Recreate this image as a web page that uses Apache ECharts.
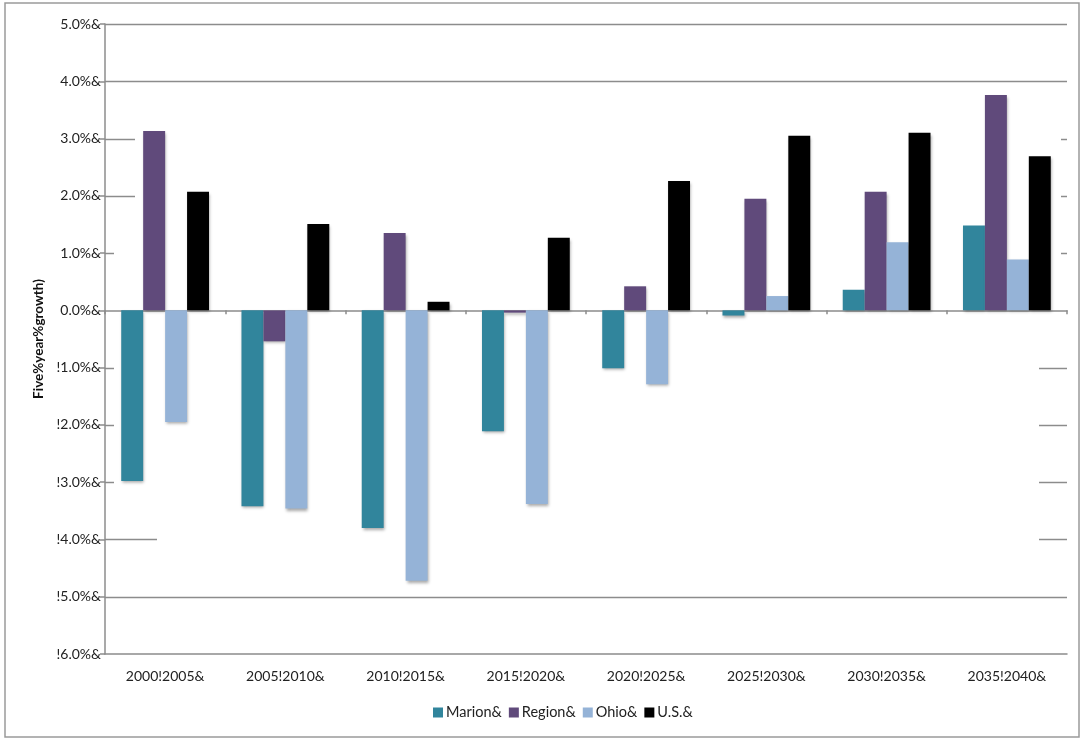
<!DOCTYPE html>
<html>
<head>
<meta charset="utf-8">
<script src="https://cdn.jsdelivr.net/npm/echarts@6/dist/echarts.min.js"></script>
<style>
  html, body { margin: 0; padding: 0; background: #ffffff; }
  #chart { width: 1084px; height: 740px; }
</style>
</head>
<body>
<div id="chart"></div>
<script>
// Five-year growth by period
const periods = ['2000!2005&', '2005!2010&', '2010!2015&', '2015!2020&',
                 '2020!2025&', '2025!2030&', '2030!2035&', '2035!2040&'];
const seriesNames = ['Marion&', 'Region&', 'Ohio&', 'U.S.&'];
const marion = [-2.98, -3.42, -3.80, -2.11, -1.01, -0.09, 0.36, 1.48];
const region = [3.13, -0.54, 1.35, -0.04, 0.42, 1.95, 2.07, 3.76];
const ohio   = [-1.95, -3.46, -4.72, -3.38, -1.29, 0.25, 1.19, 0.89];
const us     = [2.07, 1.51, 0.15, 1.27, 2.26, 3.05, 3.10, 2.69];
const yTickValues = [5, 4, 3, 2, 1, 0, -1, -2, -3, -4, -5, -6];
const yTickLabels = ['5.0%&', '4.0%&', '3.0%&', '2.0%&', '1.0%&', '0.0%&',
                     '!1.0%&', '!2.0%&', '!3.0%&', '!4.0%&', '!5.0%&', '!6.0%&'];
const yTitle = 'Five%year%growth)';

const colors = ['#31859c', '#604a7b', '#95b3d7', '#000000'];
const seriesValues = [marion, region, ohio, us];
const FONT = 'Lato, "Open Sans", sans-serif';
const GRID = { left: 105, right: 17, top: 24, bottom: 86 };
const AXIS_GRAY = '#8c8c8c';

const chart = echarts.init(document.getElementById('chart'), null, { renderer: 'canvas' });

const barShadow = {
  shadowColor: 'rgba(0,0,0,0.35)',
  shadowBlur: 3,
  shadowOffsetX: 1,
  shadowOffsetY: 2
};

const option = {
  backgroundColor: '#ffffff',
  animation: false,
  grid: Object.assign({ containLabel: false }, GRID),
  legend: {
    bottom: 15,
    left: 428,
    itemWidth: 10,
    itemHeight: 10,
    itemGap: 7,
    icon: 'rect',
    textStyle: { fontFamily: FONT, fontSize: 14.5, color: '#222', padding: [0, 0, 0, -2] },
    data: seriesNames
  },
  xAxis: [
    {
      type: 'category',
      data: periods,
      axisLine: { onZero: true, lineStyle: { color: AXIS_GRAY, width: 1.5 } },
      axisTick: { show: true, alignWithLabel: false, inside: false, length: 4,
                  lineStyle: { color: AXIS_GRAY, width: 1.5 } },
      axisLabel: { show: false },
      splitLine: { show: false }
    },
    {
      type: 'category',
      data: periods,
      position: 'bottom',
      axisLine: { onZero: false, lineStyle: { color: AXIS_GRAY, width: 1.5 } },
      axisTick: { show: false },
      axisLabel: { fontFamily: FONT, fontSize: 14, color: '#222', margin: 15 },
      splitLine: { show: false }
    }
  ],
  yAxis: {
    type: 'value',
    min: -6,
    max: 5,
    interval: 1,
    name: yTitle,
    nameLocation: 'middle',
    nameGap: 55,
    nameRotate: 90,
    nameTextStyle: { fontFamily: FONT, fontSize: 13.5, fontWeight: 'bold', color: '#111' },
    axisLine: { show: true, lineStyle: { color: AXIS_GRAY, width: 1.5 } },
    axisTick: { show: true, length: 5, lineStyle: { color: AXIS_GRAY, width: 1.5 } },
    axisLabel: {
      fontFamily: FONT, fontSize: 14, color: '#222', margin: 4,
      formatter: function (v) {
        const i = yTickValues.indexOf(Math.round(v));
        return i >= 0 ? yTickLabels[i] : '';
      }
    },
    splitLine: { show: false }
  },
  series: seriesNames.map(function (name, i) {
    return {
      name: name,
      type: 'bar',
      xAxisIndex: 0,
      data: seriesValues[i],
      barGap: '0%',
      barCategoryGap: '27%',
      itemStyle: Object.assign({ color: colors[i] }, barShadow)
    };
  })
};

chart.setOption(option);

// Gridlines: some run the full width, others only show as short stubs at the edges.
// Each entry: [value, left stub length, right stub length]; null means a full line.
const gridRules = [
  [5, null, null], [4, null, null],
  [3, 30, 6], [2, 30, 6], [1, 9, 6],
  [-1, 9, 28], [-2, 9, 28], [-3, 9, 28], [-4, 52, 28],
  [-5, null, null]
];

function drawGridRules() {
  const x0 = GRID.left;
  const x1 = chart.getWidth() - GRID.right;
  const elements = [];
  gridRules.forEach(function (r) {
    const y = Math.round(chart.convertToPixel({ yAxisIndex: 0 }, r[0])) + 0.5;
    const style = { stroke: AXIS_GRAY, lineWidth: 1.5 };
    if (r[1] === null) {
      elements.push({ type: 'line', silent: true, z: 0, shape: { x1: x0, y1: y, x2: x1, y2: y }, style: style });
    } else {
      elements.push({ type: 'line', silent: true, z: 0, shape: { x1: x0, y1: y, x2: x0 + r[1], y2: y }, style: style });
      elements.push({ type: 'line', silent: true, z: 0, shape: { x1: x1 - r[2], y1: y, x2: x1, y2: y }, style: style });
    }
  });
  // outer frame of the chart
  elements.push({
    type: 'rect', silent: true, z: 0,
    shape: { x: 5, y: 3, width: chart.getWidth() - 10, height: chart.getHeight() - 6 },
    style: { fill: 'none', stroke: '#9a9a9a', lineWidth: 1.5 }
  });
  chart.setOption({ graphic: { elements: elements } });
}
drawGridRules();
</script>
</body>
</html>
